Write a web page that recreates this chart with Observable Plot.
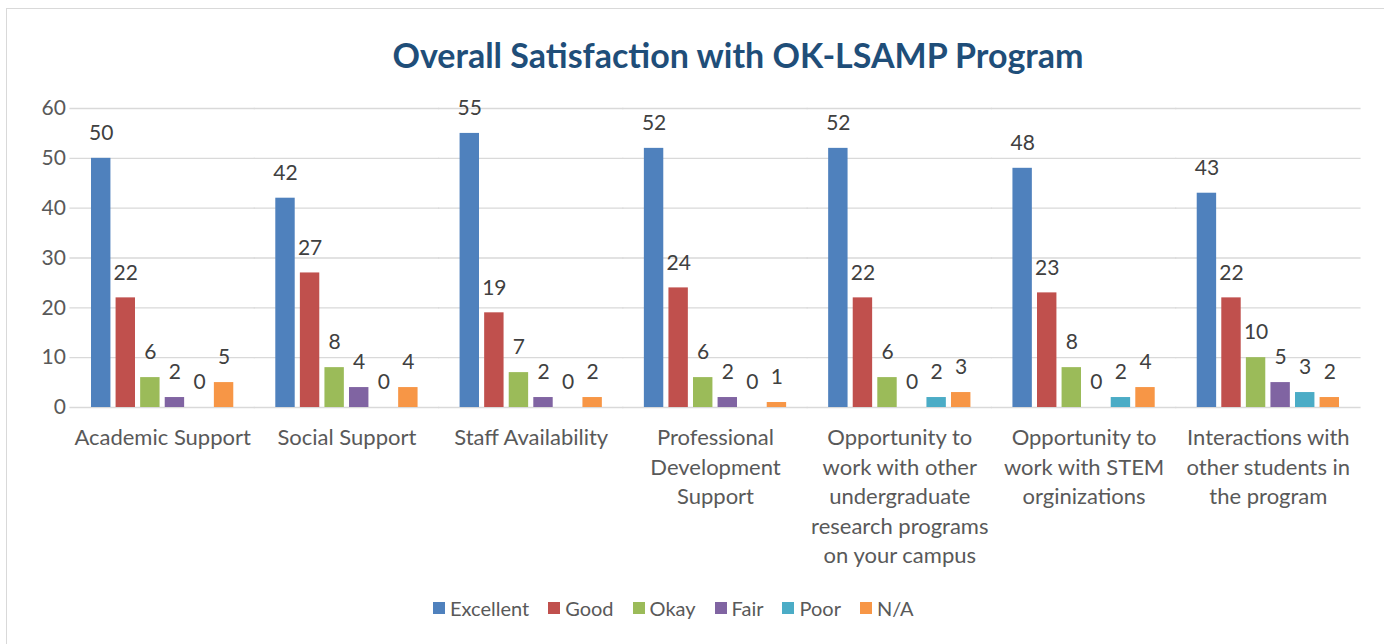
<!DOCTYPE html>
<html>
<head>
<meta charset="utf-8">
<script src="https://cdn.jsdelivr.net/npm/d3@7"></script>
<script src="https://cdn.jsdelivr.net/npm/@observablehq/plot@0.6"></script>
<style>
  html, body { margin: 0; padding: 0; background: #fff; width: 1384px; height: 644px; overflow: hidden; font-family: Lato, "Open Sans", sans-serif; }
  #frame { position: absolute; left: 6px; top: 8px; width: 1400px; height: 660px; border: 1px solid #d9d9d9; box-sizing: border-box; }
  #title { position: absolute; left: 0; width: 1476px; top: 33px; text-align: center; font-size: 34px; font-weight: bold; color: #1F4E79; line-height: 44px; }
  #chart { position: absolute; left: 0; top: 90px; }
  #legend { position: absolute; left: 433px; top: 596px; display: flex; align-items: center; font-size: 20px; color: #595959; line-height: 24px; }
  .item { display: flex; align-items: center; margin-right: 19px; }
  .sw { width: 12px; height: 12px; margin-right: 5px; }
</style>
</head>
<body>
<div id="frame"></div>
<div id="title">Overall Satisfaction with OK-LSAMP Program</div>
<div id="chart"></div>
<div id="legend"></div>
<script>
const categories = ["Academic Support", "Social Support", "Staff Availability", "Professional Development Support", "Opportunity to work with other undergraduate research programs on your campus", "Opportunity to work with STEM orginizations", "Interactions with other students in the program"];
const categoryLabels = ["Academic Support", "Social Support", "Staff Availability", "Professional\nDevelopment\nSupport", "Opportunity to\nwork with other\nundergraduate\nresearch programs\non your campus", "Opportunity to\nwork with STEM\norginizations", "Interactions with\nother students in\nthe program"];
const ratings = ["Excellent", "Good", "Okay", "Fair", "Poor", "N/A"];
const excellent = [50, 42, 55, 52, 52, 48, 43];
const good = [22, 27, 19, 24, 22, 23, 22];
const okay = [6, 8, 7, 6, 6, 8, 10];
const fair = [2, 4, 2, 2, 0, 0, 5];
const poor = [0, 0, 0, 0, 2, 2, 3];
const na = [5, 4, 2, 1, 3, 4, 2];
const colors = ["#4F81BD", "#C0504D", "#9BBB59", "#8064A2", "#4BACC6", "#F79646"];
const yTicks = [0, 10, 20, 30, 40, 50, 60];

const series = [excellent, good, okay, fair, poor, na];
const rows = [];
categories.forEach((c, i) => {
  ratings.forEach((r, j) => rows.push({category: c, rating: r, value: series[j][i]}));
});

const fxPadInner = 0.2;
const chart = Plot.plot({
  width: 1384,
  height: 480,
  marginLeft: 70,
  marginRight: 24,
  marginTop: 18,
  marginBottom: 163,
  style: {fontFamily: "Lato, 'Open Sans', sans-serif", fontSize: "21px", color: "#595959", background: "transparent"},
  fx: {domain: categories, paddingInner: fxPadInner, paddingOuter: fxPadInner / 2, round: false, axis: null},
  x: {domain: ratings, paddingInner: 0.21, paddingOuter: 0.105, axis: null, round: false},
  y: {domain: [0, 60], ticks: yTicks, tickSize: 0, tickPadding: 23, label: null},
  color: {domain: ratings, range: colors},
  marks: [
    Plot.ruleY(yTicks, {stroke: "#d9d9d9", strokeWidth: 1.3, insetLeft: -19, insetRight: -19}),
    Plot.axisFx({anchor: "bottom", tickSize: 0, tickPadding: 17, fontSize: 22, fill: "#595959", lineHeight: 1.34, label: null,
      tickFormat: d => categoryLabels[categories.indexOf(d)]}),
    Plot.barY(rows, {fx: "category", x: "rating", y: "value", fill: "rating"}),
    Plot.text(rows, {fx: "category", x: "rating", y: "value", text: d => String(d.value), dy: -25, fontSize: 21, fill: "#404040"})
  ]
});
document.getElementById("chart").appendChild(chart);

const legend = document.getElementById("legend");
ratings.forEach((r, j) => {
  const it = document.createElement("div");
  it.className = "item";
  const sw = document.createElement("div");
  sw.className = "sw";
  sw.style.background = colors[j];
  const t = document.createElement("span");
  t.textContent = r;
  it.appendChild(sw); it.appendChild(t);
  legend.appendChild(it);
});
</script>
</body>
</html>
